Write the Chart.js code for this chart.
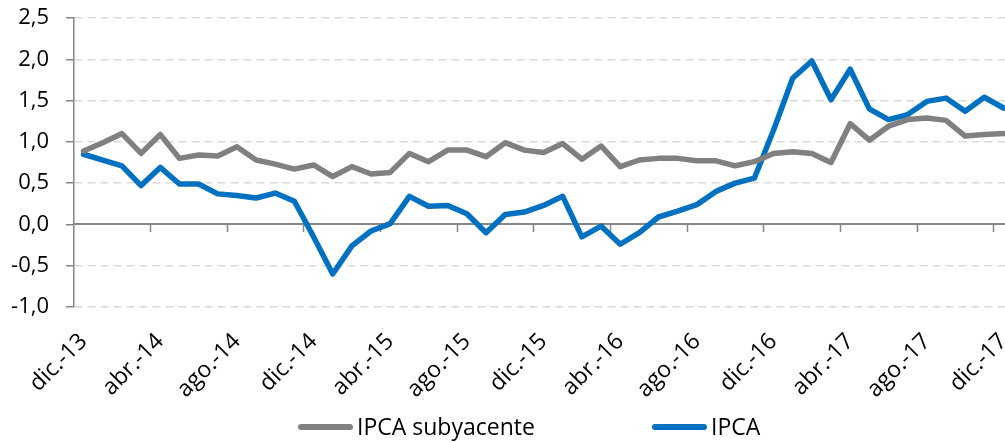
<!DOCTYPE html>
<html>
<head>
<meta charset="utf-8">
<script src="https://cdn.jsdelivr.net/npm/chart.js@4"></script>
<style>
  html, body { margin: 0; padding: 0; overflow: hidden; background: #fff; }
  #wrap { position: relative; width: 1036px; height: 442px; }
</style>
</head>
<body>
<div id="wrap"><canvas id="chartIPCA"></canvas></div>
<script>
// meses en formato de Excel "mmm.-aa", dic-13 a dic-17
const meses = ["ene.", "feb.", "mar.", "abr.", "may.", "jun.", "jul.", "ago.", "sep.", "oct.", "nov.", "dic."];
const anios = ["13", "14", "15", "16", "17"];
const categorias = ["dic.-13"];
for (let a = 1; a < anios.length; a++) {
  for (let m = 0; m < 12; m++) categorias.push(meses[m] + "-" + anios[a]);
}

const ipcaSubyacente = [0.89, 0.99, 1.10, 0.86, 1.09, 0.80, 0.84, 0.83, 0.94, 0.78, 0.73, 0.67,
  0.72, 0.58, 0.70, 0.61, 0.63, 0.86, 0.76, 0.90, 0.90, 0.82, 0.99, 0.90,
  0.87, 0.98, 0.79, 0.95, 0.70, 0.78, 0.80, 0.80, 0.77, 0.77, 0.71, 0.76,
  0.86, 0.88, 0.86, 0.75, 1.22, 1.02, 1.19, 1.27, 1.29, 1.26, 1.07, 1.09, 1.10];

const ipca = [0.85, 0.78, 0.71, 0.47, 0.69, 0.49, 0.49, 0.37, 0.35, 0.32, 0.38, 0.28,
  -0.15, -0.60, -0.26, -0.08, 0.01, 0.34, 0.22, 0.23, 0.13, -0.10, 0.12, 0.15,
  0.23, 0.34, -0.15, -0.02, -0.24, -0.10, 0.09, 0.16, 0.24, 0.40, 0.50, 0.56,
  1.14, 1.77, 1.98, 1.51, 1.88, 1.40, 1.27, 1.33, 1.49, 1.53, 1.37, 1.54, 1.41];

const yMin = -1.0, yMax = 2.5, yPaso = 0.5;

const GRIS_EJE = "#868686";
const FUENTE = "'Open Sans', sans-serif";

// leyenda dibujada a mano (el espacio entre elementos es mayor que el de Chart.js)
const leyendaManual = {
  id: "leyendaManual",
  afterDraw(chart) {
    const ctx = chart.ctx;
    const posiciones = [298, 652];
    ctx.save();
    chart.data.datasets.forEach((ds, i) => {
      const x0 = posiciones[i];
      ctx.strokeStyle = ds.borderColor;
      ctx.lineWidth = 6;
      ctx.lineCap = "round";
      ctx.beginPath();
      ctx.moveTo(x0 + 3, 427);
      ctx.lineTo(x0 + 52, 427);
      ctx.stroke();
      ctx.fillStyle = "#000";
      ctx.font = "23px " + FUENTE;
      ctx.textBaseline = "alphabetic";
      ctx.fillText(ds.label, x0 + 59, 435);
    });
    ctx.restore();
  }
};

new Chart(document.getElementById("chartIPCA"), {
  type: "line",
  data: {
    labels: categorias,
    datasets: [
      {
        label: "IPCA subyacente",
        data: ipcaSubyacente,
        borderColor: "#808080",
        borderWidth: 5.5,
        pointRadius: 0,
        borderJoinStyle: "round",
        borderCapStyle: "round",
        tension: 0
      },
      {
        label: "IPCA",
        data: ipca,
        borderColor: "#0070C0",
        borderWidth: 5.5,
        pointRadius: 0,
        borderJoinStyle: "round",
        borderCapStyle: "round",
        tension: 0
      }
    ]
  },
  options: {
    responsive: true,
    maintainAspectRatio: false,
    animation: false,
    layout: { padding: { top: 18, left: 0, right: 0, bottom: 0 } },
    plugins: {
      legend: { display: false },
      tooltip: { enabled: false }
    },
    scales: {
      y: {
        min: yMin,
        max: yMax,
        afterFit: (s) => {
          s.width = 74;
          s.paddingTop = 0;
          s.paddingBottom = 0;
        },
        ticks: {
          stepSize: yPaso,
          padding: 17,
          color: "#000",
          font: { family: FUENTE, size: 22 },
          callback: (v) => v.toFixed(1).replace(".", ",")
        },
        grid: {
          color: (c) => (c.tick && c.tick.value === 0 ? "transparent" : "#d9d9d9"),
          lineWidth: 1.5,
          tickColor: GRIS_EJE,
          tickLength: 8,
          tickWidth: 1.5
        },
        border: { display: true, color: GRIS_EJE, width: 1.5, dash: [8, 5] }
      },
      x: {
        type: "category",
        position: { y: 0 },
        offset: true,
        ticks: { display: false },
        grid: {
          offset: true,
          drawOnChartArea: false,
          drawTicks: true,
          tickLength: 7,
          tickWidth: 1.5,
          color: (c) => (c.index % 4 === 0 && c.index > 0 ? GRIS_EJE : "transparent"),
          tickColor: (c) => (c.index % 4 === 0 && c.index > 0 ? GRIS_EJE : "transparent")
        },
        border: { display: true, color: GRIS_EJE, width: 2 }
      },
      x2: {
        type: "category",
        position: "bottom",
        offset: true,
        afterFit: (s) => { s.height = 135; },
        grid: { display: false },
        border: { display: false },
        ticks: {
          autoSkip: false,
          minRotation: 45,
          maxRotation: 45,
          padding: 13,
          color: "#000",
          font: { family: FUENTE, size: 23 },
          callback: function (v, i) { return i % 4 === 0 ? this.getLabelForValue(v) : ""; }
        }
      }
    }
  },
  plugins: [leyendaManual]
});
</script>
</body>
</html>
